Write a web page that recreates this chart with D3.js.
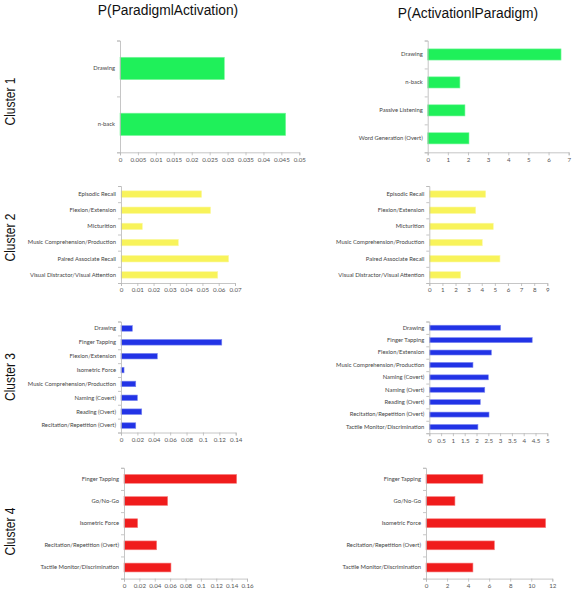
<!DOCTYPE html>
<html>
<head>
<meta charset="utf-8">
<script src="https://cdn.jsdelivr.net/npm/d3@7"></script>
<style>
  html, body { margin: 0; padding: 0; background: #fff; }
  svg { display: block; }
</style>
</head>
<body>
<div id="chart"></div>
<script>
// ---------------- DATA ----------------
const columnTitles = ["P(ParadigmlActivation)", "P(ActivationlParadigm)"];
const clusterNames = ["Cluster 1", "Cluster 2", "Cluster 3", "Cluster 4"];

const c1Cats = ["Drawing", "n-back"];
const c1Left = [0.0291, 0.0462];
const c1RightCats = ["Drawing", "n-back", "Passive Listening", "Word Generation (Overt)"];
const c1Right = [6.62, 1.6, 1.85, 2.05];

const c2Cats = ["Episodic Recall", "Flexion/Extension", "Micturition", "Music Comprehension/Production", "Paired Associate Recall", "Visual Distractor/Visual Attention"];
const c2Left = [0.0495, 0.055, 0.0131, 0.0352, 0.0661, 0.0594];
const c2Right = [4.3, 3.54, 4.88, 4.04, 5.39, 2.39];

const c3LeftCats = ["Drawing", "Finger Tapping", "Flexion/Extension", "Isometric Force", "Music Comprehension/Production", "Naming (Covert)", "Reading (Overt)", "Recitation/Repetition (Overt)"];
const c3Left = [0.0138, 0.123, 0.0443, 0.0037, 0.018, 0.020, 0.0253, 0.018];
const c3RightCats = ["Drawing", "Finger Tapping", "Flexion/Extension", "Music Comprehension/Production", "Naming (Covert)", "Naming (Overt)", "Reading (Overt)", "Recitation/Repetition (Overt)", "Tactile Monitor/Discrimination"];
const c3Right = [3.02, 4.36, 2.63, 1.85, 2.5, 2.35, 2.16, 2.53, 2.06];

const c4Cats = ["Finger Tapping", "Go/No-Go", "Isometric Force", "Recitation/Repetition (Overt)", "Tactile Monitor/Discrimination"];
const c4Left = [0.1466, 0.0568, 0.0178, 0.0425, 0.0611];
const c4Right = [5.41, 2.75, 11.37, 6.5, 4.46];

const ticksC1L = ["0", "0.005", "0.01", "0.015", "0.02", "0.025", "0.03", "0.035", "0.04", "0.045", "0.05"];
const ticksC1R = ["0", "1", "2", "3", "4", "5", "6", "7"];
const ticksC2L = ["0", "0.01", "0.02", "0.03", "0.04", "0.05", "0.06", "0.07"];
const ticksC2R = ["0", "1", "2", "3", "4", "5", "6", "7", "8", "9"];
const ticksC3L = ["0", "0.02", "0.04", "0.06", "0.08", "0.1", "0.12", "0.14"];
const ticksC3R = ["0", "0.5", "1", "1.5", "2", "2.5", "3", "3.5", "4", "4.5", "5"];
const ticksC4L = ["0", "0.02", "0.04", "0.06", "0.08", "0.1", "0.12", "0.14", "0.16"];
const ticksC4R = ["0", "2", "4", "6", "8", "10", "12"];

const clusterColors = ["#1ff05a", "#f8f35a", "#2233e6", "#f01c1c"];
const clusterStroke = ["#7ff7a0", "#fbf8a8", "#7a86f0", "#f78080"];

// ---------------- LAYOUT ----------------
const W = 574, H = 599;
const svg = d3.select("#chart").append("svg").attr("width", W).attr("height", H);

const panels = [
  { cats: c1Cats, vals: c1Left, ticks: ticksC1L, x0: 120, x1: 299.3, y0: 40.5, y1: 152.3, c: 0 },
  { cats: c1RightCats, vals: c1Right, ticks: ticksC1R, x0: 427.7, x1: 568.7, y0: 40.5, y1: 152.3, c: 0 },
  { cats: c2Cats, vals: c2Left, ticks: ticksC2L, x0: 121, x1: 235, y0: 186, y1: 283, c: 1 },
  { cats: c2Cats, vals: c2Right, ticks: ticksC2R, x0: 429.3, x1: 547.3, y0: 186, y1: 283, c: 1 },
  { cats: c3LeftCats, vals: c3Left, ticks: ticksC3L, x0: 121, x1: 235.7, y0: 321.5, y1: 432.5, c: 2 },
  { cats: c3RightCats, vals: c3Right, ticks: ticksC3R, x0: 429.3, x1: 547.3, y0: 321.5, y1: 433.2, c: 2 },
  { cats: c4Cats, vals: c4Left, ticks: ticksC4L, x0: 124, x1: 247, y0: 467.8, y1: 578.6, c: 3 },
  { cats: c4Cats, vals: c4Right, ticks: ticksC4R, x0: 426, x1: 552.3, y0: 467.8, y1: 578.6, c: 3 }
];

const axisColor = "#b8b8b8";
const labelFont = "Lato, 'Open Sans', sans-serif";

panels.forEach(p => {
  const tickNums = p.ticks.map(Number);
  const x = d3.scaleLinear().domain([0, d3.max(tickNums)]).range([p.x0, p.x1]);
  const y = d3.scaleBand().domain(p.cats).range([p.y0, p.y1]).paddingInner(0.6).paddingOuter(0.3);
  const yIdx = d3.scaleLinear().domain([0, p.cats.length]).range([p.y0, p.y1]);
  const g = svg.append("g");

  // bars
  g.selectAll("rect.bar").data(p.cats).join("rect")
    .attr("class", "bar")
    .attr("x", x(0))
    .attr("y", d => y(d))
    .attr("width", (d, i) => x(p.vals[i]) - x(0))
    .attr("height", y.bandwidth())
    .attr("fill", clusterColors[p.c])
    .attr("stroke", clusterStroke[p.c])
    .attr("stroke-width", 0.6);

  // x axis
  const xa = g.append("g").attr("transform", `translate(0,${p.y1})`)
    .call(d3.axisBottom(x).tickValues(tickNums).tickFormat((d, i) => p.ticks[i]).tickSize(3).tickSizeOuter(3).tickPadding(2));
  xa.selectAll("path, line").attr("stroke", axisColor).attr("stroke-width", 0.8);
  xa.selectAll("text").attr("fill", "#555").style("font-family", labelFont).style("font-size", "6.2px");

  // y axis (ticks at category boundaries)
  const ya = g.append("g").attr("transform", `translate(${x(0)},0)`)
    .call(d3.axisLeft(yIdx).tickValues(d3.range(p.cats.length + 1)).tickFormat("").tickSize(3).tickSizeOuter(3));
  ya.selectAll("path, line").attr("stroke", axisColor).attr("stroke-width", 0.8);

  // category labels
  const yl = g.append("g").attr("transform", `translate(${x(0)},0)`)
    .call(d3.axisLeft(y).tickSize(0).tickPadding(5));
  yl.select("path").remove();
  yl.selectAll("text").attr("fill", "#444").style("font-family", labelFont).style("font-size", "5.85px");
});

// column titles
const titleX = [168, 468];
const titleY = [14.5, 17.5];
columnTitles.forEach((t, i) => {
  svg.append("text").attr("x", titleX[i]).attr("y", titleY[i])
    .attr("text-anchor", "middle")
    .style("font-family", "'Liberation Sans', Arial, sans-serif")
    .style("font-size", "13.8px").attr("fill", "#111").text(t);
});

// cluster labels
const clusterY = [101.5, 237.5, 377, 531.5];
clusterNames.forEach((t, i) => {
  svg.append("text")
    .attr("transform", `translate(14.5,${clusterY[i]}) rotate(-90)`)
    .attr("text-anchor", "middle")
    .attr("textLength", 48).attr("lengthAdjust", "spacingAndGlyphs")
    .style("font-family", "'Liberation Sans', Arial, sans-serif")
    .style("font-size", "15px").attr("fill", "#111").text(t);
});
</script>
</body>
</html>
